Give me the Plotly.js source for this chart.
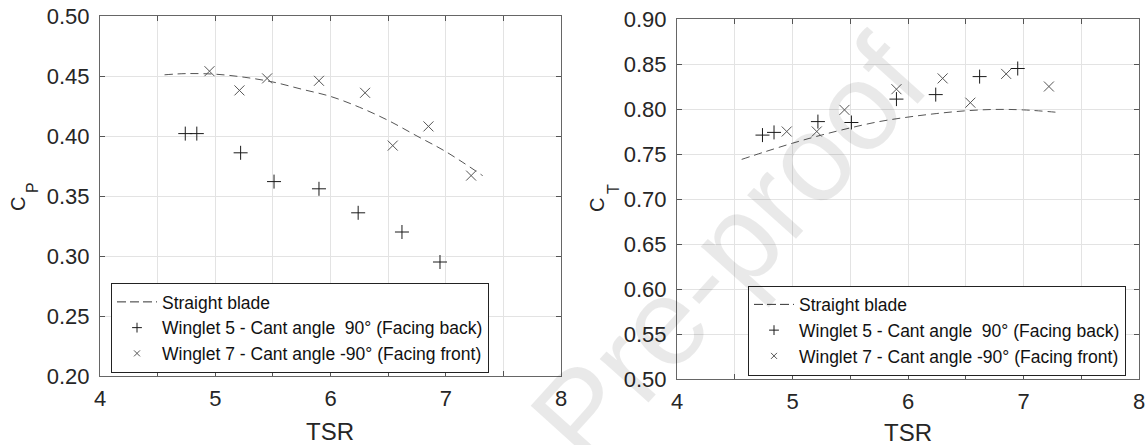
<!DOCTYPE html>
<html>
<head>
<meta charset="utf-8">
<script src="https://cdn.plot.ly/plotly-3.0.1.min.js"></script>
<style>html,body{margin:0;padding:0;background:#fff;}#chart{width:1146px;height:445px;}</style>
</head>
<body>
<div id="chart"></div>
<script>
// ---- data ----
const tsrW5 = [4.74, 4.84, 5.22, 5.51, 5.90, 6.24, 6.62, 6.95];
const tsrW7 = [4.95, 5.21, 5.45, 5.90, 6.30, 6.54, 6.85, 7.22];
const cpW5 = [0.402, 0.402, 0.386, 0.362, 0.356, 0.336, 0.320, 0.295];
const cpW7 = [0.454, 0.438, 0.448, 0.446, 0.436, 0.392, 0.408, 0.367];
const ctW5 = [0.771, 0.774, 0.786, 0.785, 0.811, 0.816, 0.836, 0.845];
const ctW7 = [0.775, 0.775, 0.799, 0.822, 0.834, 0.807, 0.839, 0.825];
const tsrStraight = [4.56, 4.75, 5.0, 5.25, 5.5, 5.75, 6.0, 6.25, 6.5, 6.75, 7.0, 7.32];
const cpStraight = [0.451, 0.452, 0.4515, 0.449, 0.445, 0.439, 0.433, 0.424, 0.413, 0.400, 0.387, 0.367];
const ctStraight = [0.744, 0.752, 0.762, 0.771, 0.779, 0.786, 0.791, 0.795, 0.798, 0.7995, 0.799, 0.796];
const xTickVals = [4, 4.5, 5, 5.5, 6, 6.5, 7, 7.5, 8];
const xTickText = ['4', '', '5', '', '6', '', '7', '', '8'];
const nameStraight = 'Straight blade';
const nameW5 = 'Winglet 5 - Cant angle\u00a0 90° (Facing back)';
const nameW7 = 'Winglet 7 - Cant angle -90° (Facing front)';

const W = 1146, H = 445;
const FONT = 'Liberation Sans, Arial, sans-serif';
const px = v => v / W, py = v => 1 - v / H;

const lineStyle = {color: '#555555', width: 1, dash: '8px,5px', shape: 'spline'};
const plusMarker = {symbol: 'cross-thin', size: 10, line: {color: '#1a1a1a', width: 1}};
const xMarker = {symbol: 'x-thin', size: 10, line: {color: '#555555', width: 1}};
const plusLegend = {symbol: 'cross-thin', size: 7, line: {color: '#1a1a1a', width: 1}};
const xLegend = {symbol: 'x-thin', size: 6, line: {color: '#555555', width: 1}};

const traces = [];
[['x', 'y', cpStraight, cpW5, cpW7, 'legend'], ['x2', 'y2', ctStraight, ctW5, ctW7, 'legend2']].forEach(p => {
  const [xa, ya, sv, w5, w7, lg] = p;
  traces.push({x: tsrStraight, y: sv, mode: 'lines', line: lineStyle, xaxis: xa, yaxis: ya, showlegend: false});
  traces.push({x: tsrW5, y: w5, mode: 'markers', marker: plusMarker, xaxis: xa, yaxis: ya, showlegend: false});
  traces.push({x: tsrW7, y: w7, mode: 'markers', marker: xMarker, xaxis: xa, yaxis: ya, showlegend: false});
  // legend entries (no data points; legend glyphs only)
  traces.push({x: [null], y: [null], mode: 'lines', line: {color: '#333', width: 1, dash: '9px,4px'}, name: nameStraight, xaxis: xa, yaxis: ya, legend: lg});
  traces.push({x: [null], y: [null], mode: 'markers', marker: plusLegend, name: nameW5, xaxis: xa, yaxis: ya, legend: lg});
  traces.push({x: [null], y: [null], mode: 'markers', marker: xLegend, name: nameW7, xaxis: xa, yaxis: ya, legend: lg});
});

function xAxis(domain, anchor) {
  return {
    domain: domain, anchor: anchor, range: [4, 8],
    tickvals: xTickVals, ticktext: xTickText,
    ticks: 'inside', ticklen: 5, tickcolor: '#555', tickwidth: 1, ticklabelstandoff: 3,
    showline: true, linecolor: '#666', linewidth: 1, mirror: 'ticks',
    showgrid: true, gridcolor: '#e3e3e3', gridwidth: 1, zeroline: false,
    tickfont: {family: FONT, size: 22, color: '#262626'}
  };
}
function yAxis(domain, anchor, range) {
  return {
    domain: domain, anchor: anchor, range: range, dtick: 0.05, tick0: 0, tickformat: '.2f',
    ticks: 'inside', ticklen: 5, tickcolor: '#555', tickwidth: 1, ticklabelstandoff: 5,
    showline: true, linecolor: '#666', linewidth: 1, mirror: 'ticks',
    showgrid: true, gridcolor: '#e3e3e3', gridwidth: 1, zeroline: false,
    tickfont: {family: FONT, size: 22, color: '#262626'}
  };
}
function legend(x, y) {
  return {
    x: x, y: y, xanchor: 'left', yanchor: 'middle', xref: 'paper', yref: 'paper',
    bgcolor: '#ffffff', bordercolor: '#222', borderwidth: 1,
    font: {family: FONT, size: 17.5, color: '#111'}, tracegroupgap: 0, itemwidth: 40
  };
}
function ann(text, x, y, size, angle, color) {
  return {text: text, xref: 'paper', yref: 'paper', x: px(x), y: py(y), xanchor: 'center', yanchor: 'middle',
    showarrow: false, textangle: angle || 0, font: {family: FONT, size: size, color: color || '#262626'}};
}

const layout = {
  width: W, height: H, margin: {l: 0, r: 0, t: 0, b: 0},
  paper_bgcolor: '#ffffff', plot_bgcolor: 'rgba(0,0,0,0)', showlegend: true,
  xaxis: xAxis([px(100), px(561)], 'y'),
  yaxis: yAxis([py(376), py(16)], 'x', [0.2, 0.5]),
  xaxis2: xAxis([px(677), px(1139)], 'y2'),
  yaxis2: yAxis([py(379), py(19)], 'x2', [0.5, 0.9]),
  legend: legend(px(111), py(328)),
  legend2: legend(px(748), py(330.5)),
  annotations: [
    ann('Pre-proof', 728, 250, 124, -48, 'rgba(0,0,0,0.085)'),
    ann('TSR', 330, 431, 24),
    ann('TSR', 908, 432, 24),
    ann('C', 18, 204, 20, -90),
    ann('P', 33, 188, 16, -90),
    ann('C', 597, 205, 20, -90),
    ann('T', 613, 189, 16, -90)
  ]
};

Plotly.newPlot('chart', traces, layout, {displayModeBar: false, staticPlot: true});
</script>
</body>
</html>
